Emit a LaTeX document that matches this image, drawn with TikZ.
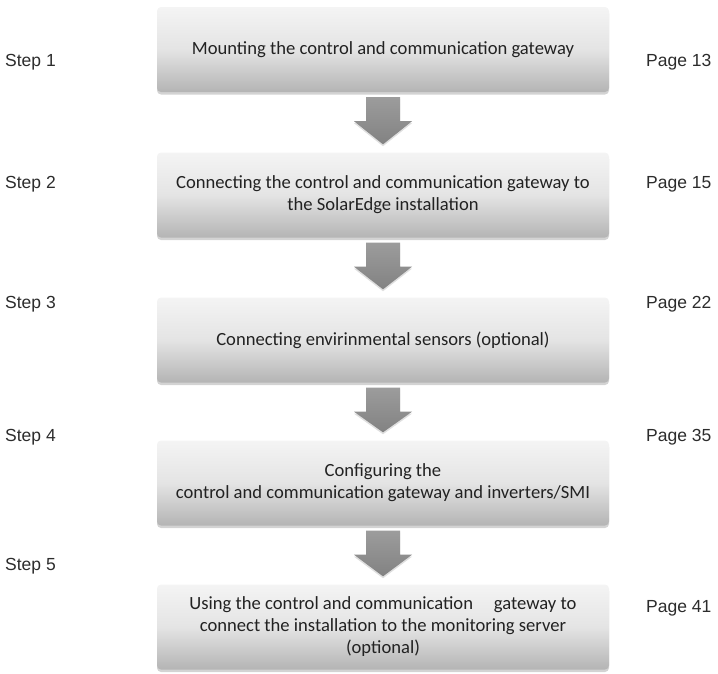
\documentclass[tikz,border=0pt]{standalone}
\usepackage{fontspec}
\setmainfont{Carlito}
\newfontfamily\labelfont{Liberation Sans}
\usetikzlibrary{shadows,calc}
\definecolor{boxtop}{HTML}{F4F4F4}
\definecolor{boxmid}{HTML}{E4E4E4}
\definecolor{boxbot}{HTML}{B4B4B4}
\definecolor{arrtop}{HTML}{9C9C9C}
\definecolor{arrbot}{HTML}{828282}
\definecolor{txt}{HTML}{222222}
\definecolor{lbl}{HTML}{2C2C2C}
\begin{document}
\begin{tikzpicture}[x=1pt,y=-1pt,
  stepbox/.style={draw=none, rounded corners=4pt, minimum width=452pt, minimum height=85pt,
    top color=boxtop, bottom color=boxbot, middle color=boxmid,
    drop shadow={shadow xshift=0pt, shadow yshift=-2.5pt, opacity=0.35},
    align=center, font=\fontsize{18.6}{22}\selectfont, text=txt, inner sep=0pt},
  sidelabel/.style={anchor=west, font=\labelfont\fontsize{17.5}{20}\selectfont, text=lbl, inner sep=0pt},
  bigarrow/.style={draw=none, top color=arrtop, bottom color=arrbot,
    drop shadow={shadow xshift=0pt, shadow yshift=-2pt, opacity=0.25}}]
\useasboundingbox (0,0) rectangle (718,673);
\node[stepbox] (b1) at (383,49.5) {Mounting the control and communication gateway};
\node[stepbox] (b2) at (383,195) {Connecting the control and communication gateway to\\the SolarEdge installation};
\node[stepbox] (b3) at (383,340) {Connecting envirinmental sensors (optional)};
\node[stepbox] (b4) at (383,483) {Configuring the\\control and communication gateway and inverters/SMI};
\node[stepbox] (b5) at (383,627) {Using the control and communication\hspace{0.9em} gateway to\\connect the installation to the monitoring server\\(optional)};
\foreach \a/\b in {b1/b2,b2/b3,b3/b4,b4/b5}{
  \path[bigarrow] ($(\a.south)+(-17,5)$) -- ($(\a.south)+(17,5)$) -- ($(\a.south)+(17,29)$)
    -- ($(\a.south)+(29,29)$) -- ($(\b.north)+(0,-8)$) -- ($(\a.south)+(-29,29)$)
    -- ($(\a.south)+(-17,29)$) -- cycle;
}
\node[sidelabel] (s1) at (5,62) {Step 1};
\node[sidelabel] (s2) at (5,184) {Step 2};
\node[sidelabel] (s3) at (5,304) {Step 3};
\node[sidelabel] (s4) at (5,437) {Step 4};
\node[sidelabel] (s5) at (5,566) {Step 5};
\node[sidelabel] (p1) at (646,62) {Page 13};
\node[sidelabel] (p2) at (646,184) {Page 15};
\node[sidelabel] (p3) at (646,304) {Page 22};
\node[sidelabel] (p4) at (646,437) {Page 35};
\node[sidelabel] (p5) at (646,608) {Page 41};
\end{tikzpicture}
\end{document}
